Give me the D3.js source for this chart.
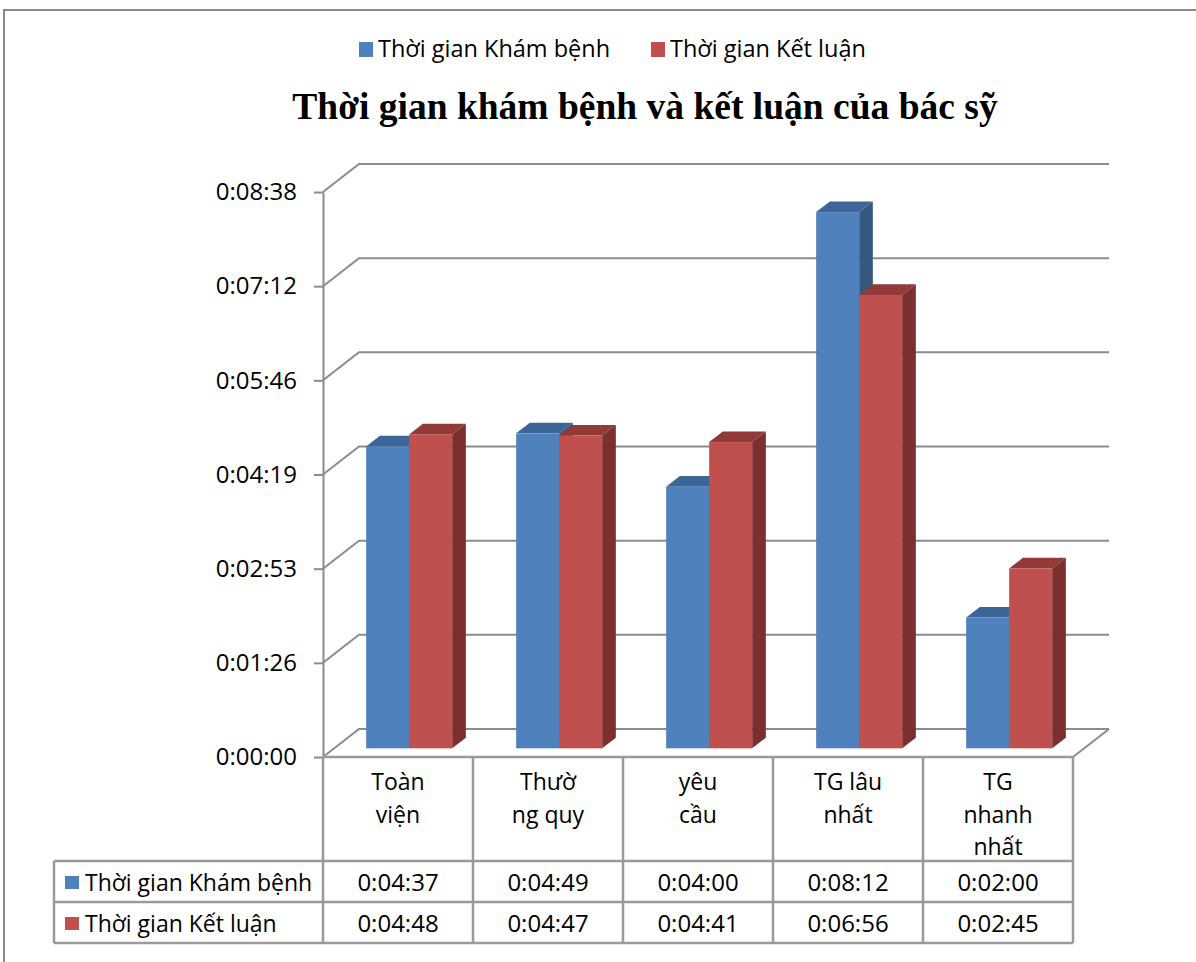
<!DOCTYPE html>
<html lang="vi">
<head>
<meta charset="utf-8">
<title>Thời gian khám bệnh và kết luận của bác sỹ</title>
<script type="text/javascript" src="https://cdn.jsdelivr.net/npm/d3@7"></script>
<style>
  body { margin: 0; background: #fff; }
  text { font-family: "Open Sans", Lato, sans-serif; fill: #000; }
  .title { font-family: "Liberation Serif", "Times New Roman", serif; font-weight: bold; }
</style>
</head>
<body>
<div id="bod"></div>
<script type="text/javascript">
// data
let categories = [["Toàn", "viện"], ["Thườ", "ng quy"], ["yêu", "cầu"], ["TG lâu", "nhất"], ["TG", "nhanh", "nhất"]]
let seriesNames = ["Thời gian Khám bệnh", "Thời gian Kết luận"]
let khamBenh = ["0:04:37", "0:04:49", "0:04:00", "0:08:12", "0:02:00"]
let ketLuan = ["0:04:48", "0:04:47", "0:04:41", "0:06:56", "0:02:45"]
let yTickDays = [0, 0.001, 0.002, 0.003, 0.004, 0.005, 0.006]
let yTickLabels = ["0:00:00", "0:01:26", "0:02:53", "0:04:19", "0:05:46", "0:07:12", "0:08:38"]

function toSec(s) {
  let p = s.split(":").map(Number)
  return p[0] * 3600 + p[1] * 60 + p[2]
}

let w = 1196
let h = 962
let colors = [
  {front: "#4f81bd", top: "#3d6698", side: "#36587f"},
  {front: "#c0504d", top: "#913a38", side: "#7b2f2e"}
]

let svg = d3.select("#bod").append("svg")
    .attr("width", w)
    .attr("height", h);

// outer frame
svg.append("path")
    .attr("d", "M4," + h + "V10H" + w)
    .attr("fill", "none")
    .attr("stroke", "#8a8a8a")
    .attr("stroke-width", 2);

// plot geometry
let left = 323, right = 1073, bottom = 757, topY = 192
let depth = {dx: 36, dy: -28}
let f0 = 0.31, f1 = 0.69

let x = d3.scaleBand()
    .domain(d3.range(categories.length))
    .range([left, right]);
let sub = d3.scaleBand()
    .domain(d3.range(seriesNames.length))
    .range([0, 86]);
let y = d3.scaleLinear()
    .domain([0, 0.006 * 86400])
    .range([bottom, topY]);

let grid = svg.append("g")
    .attr("fill", "none")
    .attr("stroke", "#8c8c8c")
    .attr("stroke-width", 2);

// back wall + side wall gridlines
yTickDays.forEach(function(d) {
  let yy = y(d * 86400)
  grid.append("path")
      .attr("d", "M" + left + "," + yy + "L" + (left + depth.dx) + "," + (yy + depth.dy) +
        "H" + (right + depth.dx));
});
// floor right edge
grid.append("path")
    .attr("d", "M" + (right + depth.dx) + "," + (bottom + depth.dy) + "L" + right + "," + bottom);

// y axis
let yAxis = svg.append("g")
    .attr("transform", "translate(" + left + ",0)")
    .call(d3.axisLeft(y)
      .tickValues(yTickDays.map(function(d) { return d * 86400; }))
      .tickFormat(function(d, i) { return yTickLabels[i]; })
      .tickSize(9)
      .tickSizeOuter(0)
      .tickPadding(17));
yAxis.select(".domain").attr("stroke", "#8c8c8c").attr("stroke-width", 2);
yAxis.selectAll(".tick line").attr("stroke", "#8c8c8c").attr("stroke-width", 2);
yAxis.selectAll(".tick text")
    .attr("font-size", 24)
    .attr("font-family", "'Open Sans', Lato, sans-serif")
    .attr("fill", "#000");

// bars
let values = [khamBenh.map(toSec), ketLuan.map(toSec)]
let bd = {dx: (f1 - f0) * depth.dx, dy: (f1 - f0) * depth.dy}
let bw = sub.bandwidth()
let bars = svg.append("g")
categories.forEach(function(c, i) {
  values.forEach(function(vals, s) {
    let x0 = x(i) + (x.bandwidth() - 86) / 2 + sub(s) + f0 * depth.dx
    let b = bottom + f0 * depth.dy
    let t = b - (bottom - y(vals[i]))
    let g = bars.append("g")
    g.append("path")
        .attr("d", "M" + x0 + "," + t + "L" + (x0 + bd.dx) + "," + (t + bd.dy) +
          "H" + (x0 + bw + bd.dx) + "L" + (x0 + bw) + "," + t + "Z")
        .attr("fill", colors[s].top);
    g.append("path")
        .attr("d", "M" + (x0 + bw) + "," + t + "L" + (x0 + bw + bd.dx) + "," + (t + bd.dy) +
          "V" + (b + bd.dy) + "L" + (x0 + bw) + "," + b + "Z")
        .attr("fill", colors[s].side);
    g.append("rect")
        .attr("x", x0)
        .attr("y", t)
        .attr("width", bw)
        .attr("height", b - t)
        .attr("fill", colors[s].front);
  });
});

// data table
let rowTop = 861, rowH = 41, tableLeft = 54
let tbl = svg.append("g")
    .attr("fill", "none")
    .attr("stroke", "#9a9a9a")
    .attr("stroke-width", 2.5);
tbl.append("path").attr("d", "M" + left + "," + bottom + "H" + right);
d3.range(categories.length + 1).forEach(function(i) {
  let xx = i < categories.length ? x(i) : right
  tbl.append("path").attr("d", "M" + xx + "," + bottom + "V" + (rowTop + 2 * rowH));
});
[0, 1, 2].forEach(function(r) {
  tbl.append("path").attr("d", "M" + tableLeft + "," + (rowTop + r * rowH) + "H" + right);
});
tbl.append("path").attr("d", "M" + tableLeft + "," + rowTop + "V" + (rowTop + 2 * rowH));

// category headers
categories.forEach(function(c, i) {
  let t = svg.append("text")
      .attr("x", x(i) + x.bandwidth() / 2)
      .attr("y", 790)
      .attr("text-anchor", "middle")
      .attr("font-size", 23);
  c.forEach(function(line, k) {
    t.append("tspan")
        .attr("x", x(i) + x.bandwidth() / 2)
        .attr("dy", k === 0 ? 0 : 32.5)
        .text(line);
  });
});

// table rows
values.forEach(function(vals, s) {
  let ry = rowTop + s * rowH
  svg.append("rect")
      .attr("x", 65).attr("y", ry + 15)
      .attr("width", 14).attr("height", 13)
      .attr("fill", colors[s].front);
  svg.append("text")
      .attr("x", 85).attr("y", ry + 30)
      .attr("font-size", 23)
      .text(seriesNames[s]);
  (s === 0 ? khamBenh : ketLuan).forEach(function(v, i) {
    svg.append("text")
        .attr("x", x(i) + x.bandwidth() / 2)
        .attr("y", ry + 30)
        .attr("text-anchor", "middle")
        .attr("font-size", 24)
        .text(v);
  });
});

// legend
let legendX = [359, 651]
seriesNames.forEach(function(n, s) {
  svg.append("rect")
      .attr("x", legendX[s]).attr("y", 42)
      .attr("width", 14).attr("height", 15)
      .attr("fill", colors[s].front);
  svg.append("text")
      .attr("x", legendX[s] + 19).attr("y", 57)
      .attr("font-size", 23.5)
      .text(n);
});

// title
svg.append("text")
    .attr("class", "title")
    .attr("x", 645)
    .attr("y", 119)
    .attr("text-anchor", "middle")
    .attr("font-size", 37.5)
    .text("Thời gian khám bệnh và kết luận của bác sỹ");
</script>
</body>
</html>
